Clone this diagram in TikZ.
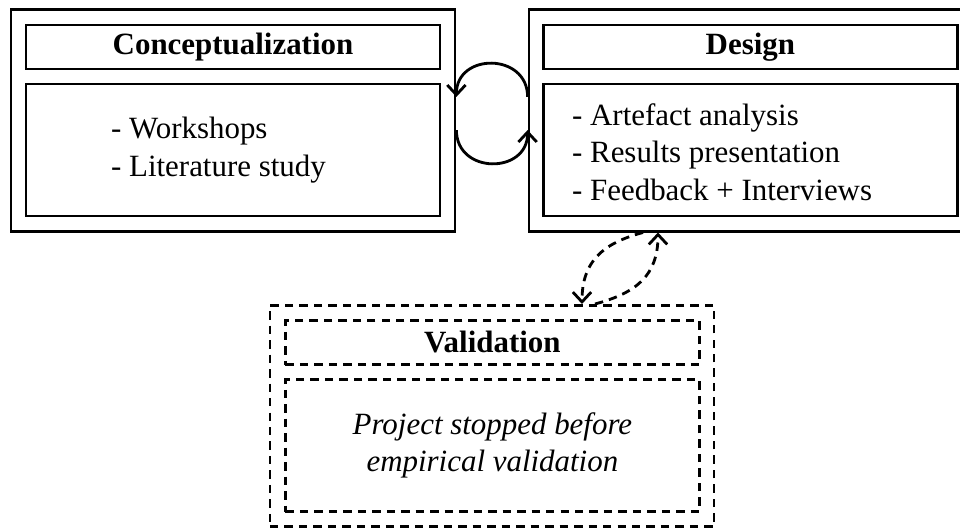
\documentclass[tikz,border=0pt]{standalone}
\usepackage{fontspec}
\setmainfont{Liberation Serif}
\usetikzlibrary{arrows.meta}

\begin{document}
\begin{tikzpicture}[
    line width=2pt,
    every node/.style={font=\fontsize{22}{26.7}\selectfont},
    outerbox/.style={draw=black, minimum width=11.1cm, minimum height=5.53cm},
    titlebox/.style={draw=black, minimum width=10.35cm, minimum height=1.1cm, font=\fontsize{22}{26.7}\selectfont\bfseries},
    textbox/.style={draw=black, minimum width=10.35cm, minimum height=3.3cm},
    dashbox/.style={dash pattern=on 6pt off 4.3pt},
    tip/.style={-{Straight Barb[length=7pt,width=13pt,line width=2pt]}}
  ]
  \useasboundingbox (0,0) rectangle (24,-13.2);

  \node[outerbox](concept) at (5.825,-3.0125) {};
  \node[titlebox](concepttitle) at (5.825,-1.175) {Conceptualization};
  \node[textbox](concepttext) at (5.825,-3.75) {};
  \node[anchor=west, align=left](conceptitems) at (2.625,-3.75) {- Workshops\\- Literature study};

  \node[outerbox](design) at (18.775,-3.0125) {};
  \node[titlebox](designtitle) at (18.76,-1.175) {Design};
  \node[textbox](designtext) at (18.76,-3.75) {};
  \node[anchor=west, align=left](designitems) at (14.15,-3.8) {- Artefact analysis\\- Results presentation\\- Feedback + Interviews};

  \node[outerbox, dashbox](valid) at (12.3,-10.4) {};
  \node[titlebox, dashbox](validtitle) at (12.31,-8.5625) {Validation};
  \node[textbox, dashbox, align=center, font=\fontsize{22}{26.7}\selectfont\itshape](validtext) at (12.31,-11.14) {Project stopped before\\empirical validation};

  \draw[tip] ([yshift=0.59cm]design.west) to[out=90, in=90, looseness=1.6] ([yshift=0.59cm]concept.east);
  \draw[tip] ([yshift=-0.24cm]concept.east) to[out=-90, in=-90, looseness=1.6] ([yshift=-0.24cm]design.west);

  \draw[tip, dashbox] ([xshift=-2.7cm]design.south) to[out=195, in=90, looseness=1.15] ([xshift=2.25cm]valid.north);
  \draw[tip, dashbox] ([xshift=2.575cm]valid.north) to[out=15, in=-90, looseness=1.15] ([xshift=-2.325cm]design.south);
\end{tikzpicture}
\end{document}
